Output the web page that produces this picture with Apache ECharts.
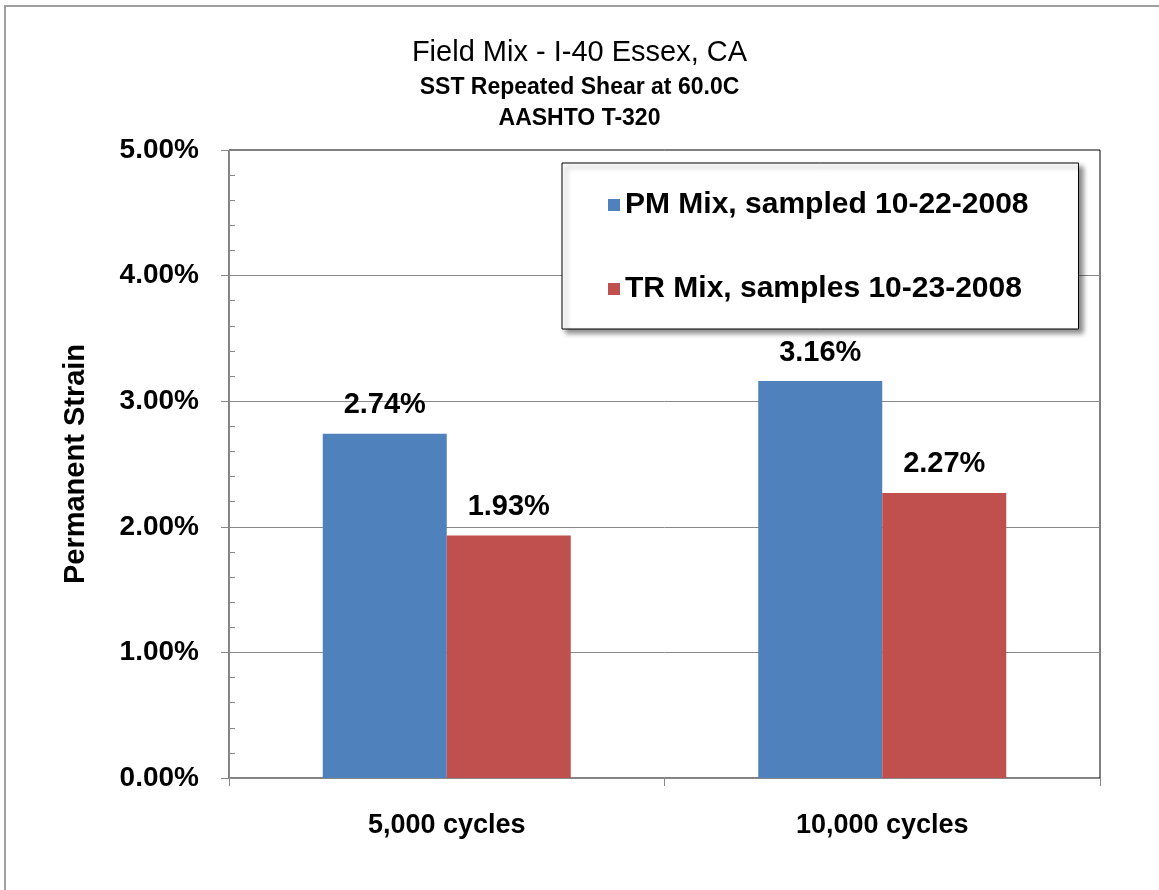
<!DOCTYPE html>
<html>
<head>
<meta charset="utf-8">
<script src="https://cdn.jsdelivr.net/npm/echarts@6/dist/echarts.min.js"></script>
<style>
html,body{margin:0;padding:0;background:#fff;}
#chart{width:1159px;height:890px;}
</style>
</head>
<body>
<div id="chart"></div>
<script>
const categories = ['5,000 cycles', '10,000 cycles'];
const seriesNames = ['PM Mix, sampled 10-22-2008', 'TR Mix, samples 10-23-2008'];
const pmValues = [2.74, 3.16];
const trValues = [1.93, 2.27];
const titleText = 'Field Mix - I-40 Essex, CA';
const subtitleText = 'SST Repeated Shear at 60.0C\nAASHTO T-320';
const yAxisName = 'Permanent Strain';

const FONT = '"Liberation Sans", Arial, Helvetica, sans-serif';
const chart = echarts.init(document.getElementById('chart'), null, {renderer: 'canvas'});

const pct = v => v.toFixed(2) + '%';

chart.setOption({
  backgroundColor: '#ffffff',
  animation: false,
  graphic: [{
    type: 'rect',
    shape: {x: 5, y: 6, width: 1300, height: 1000},
    style: {fill: 'none', stroke: '#a0a0a0', lineWidth: 2},
    silent: true, z: 100
  }],
  title: [{
    text: titleText,
    left: 'center',
    top: 31,
    textStyle: {fontFamily: FONT, fontSize: 29, fontWeight: 'normal', color: '#000', lineHeight: 33}
  }, {
    text: subtitleText,
    left: 'center',
    top: 67,
    textStyle: {fontFamily: FONT, fontSize: 23, fontWeight: 'bold', color: '#000', lineHeight: 31}
  }],
  legend: {
    orient: 'vertical',
    left: 562,
    top: 163,
    padding: [26, 50, 24, 46],
    itemGap: 52,
    itemWidth: 12,
    itemHeight: 12,
    icon: 'rect',
    backgroundColor: '#fff',
    borderColor: '#000',
    borderWidth: 1,
    shadowBlur: 5,
    shadowColor: 'rgba(0,0,0,0.45)',
    shadowOffsetX: 4,
    shadowOffsetY: 4,
    data: seriesNames,
    textStyle: {fontFamily: FONT, fontSize: 30, fontWeight: 'bold', color: '#000', lineHeight: 32}
  },
  grid: {
    left: 229, right: 59, top: 150, bottom: 112,
    show: true, borderColor: '#000', borderWidth: 1, backgroundColor: 'transparent'
  },
  xAxis: {
    type: 'category',
    data: categories,
    axisLine: {show: true, lineStyle: {color: '#888', width: 1}},
    axisTick: {show: true, length: 8, lineStyle: {color: '#888'}},
    axisLabel: {interval: 0, margin: 34, fontFamily: FONT, fontSize: 27, fontWeight: 'bold', color: '#000'},
    splitLine: {show: false}
  },
  yAxis: [{
    type: 'value',
    min: 0, max: 5, interval: 1,
    position: 'left',
    name: yAxisName,
    nameLocation: 'middle',
    nameGap: 139,
    nameTextStyle: {fontFamily: FONT, fontSize: 29, fontWeight: 'bold', color: '#000'},
    axisLine: {show: true, lineStyle: {color: '#888', width: 1}},
    axisTick: {show: true, length: 8, lineStyle: {color: '#888'}},
    axisLabel: {formatter: pct, margin: 30, fontFamily: FONT, fontSize: 28, fontWeight: 'bold', color: '#000'},
    splitLine: {show: true, showMaxLine: false, lineStyle: {color: '#888', width: 1}}
  }, {
    type: 'value',
    min: 0, max: 5, interval: 1,
    position: 'left',
    offset: 0,
    axisLine: {show: false},
    axisTick: {show: false, inside: true},
    axisLabel: {show: false},
    splitLine: {show: false},
    minorTick: {show: true, splitNumber: 5, length: 6, lineStyle: {color: '#888'}}
  }],
  series: [{
    name: seriesNames[0],
    type: 'bar',
    data: pmValues,
    barWidth: 124,
    barGap: '0%',
    itemStyle: {color: '#4F81BD'},
    label: {show: true, position: 'top', distance: 14, formatter: p => pct(p.value), fontFamily: FONT, fontSize: 29, fontWeight: 'bold', color: '#000'}
  }, {
    name: seriesNames[1],
    type: 'bar',
    data: trValues,
    barWidth: 124,
    barGap: '0%',
    itemStyle: {color: '#C0504D'},
    label: {show: true, position: 'top', distance: 14, formatter: p => pct(p.value), fontFamily: FONT, fontSize: 29, fontWeight: 'bold', color: '#000'}
  }]
});
</script>
</body>
</html>
